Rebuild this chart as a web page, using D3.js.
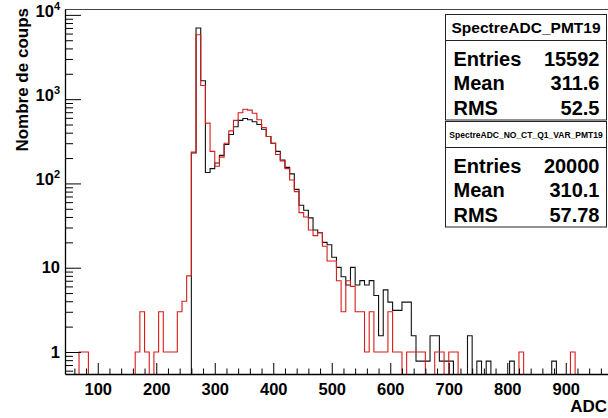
<!DOCTYPE html>
<html>
<head>
<meta charset="utf-8">
<script src="https://cdn.jsdelivr.net/npm/d3@7/dist/d3.min.js"></script>
<style>
    body { margin: 0; background: #fff; }
    svg { display: block; font-family: "Liberation Sans", Arial, sans-serif; font-weight: bold; }
</style>
</head>
<body>
<div id="chart"></div>
<script>
//----------------------------
// Data
//----------------------------

// histogram binning (ADC units)
var binStart = 44;
var binWidth = 8;

// black histogram SpectreADC_PMT19 (drawn normalised, values as read)
var countsPMT19 = [
    0, 0, 0, 0, 0, 0, 0, 0, 0, 0,
    0, 0, 0, 0, 0, 0, 0, 0, 0, 0,
    0, 0, 0, 0, 0, 0, 0, 230, 7000, 1650,
    135, 150, 175, 215, 290, 380, 470, 560, 590, 570,
    540, 500, 440, 360, 300, 240, 190, 155, 130, 85,
    55, 48, 39, 28, 26, 20, 18.7, 13.3, 10.1, 7.8,
    6.24, 10.1, 6.24, 7.02, 6.24, 7.02, 4.68, 1.56, 5.46, 3.9,
    3.12, 3.12, 3.9, 3.9, 1.56, 0.78, 0.78, 0.78, 1.56, 1.56,
    0.78, 0.78, 0.78, 0, 0, 0, 1.56, 0, 0.78, 0,
    0.78, 0, 0, 0, 0, 0.78, 0, 0, 0, 0,
    0, 0, 0, 0, 0.78, 0, 0, 0, 0, 0,
    0, 0, 0, 0, 0, 0, 0, 0, 0, 0,
    0, 0, 0, 0, 0
];

// red histogram SpectreADC_NO_CT_Q1_VAR_PMT19
var countsNoCt = [
    0, 0, 0, 1, 1, 0, 0, 0, 0, 0,
    0, 0, 0, 0, 0, 1, 3, 1, 0, 1,
    3, 1, 1, 1, 3, 4, 8, 235, 5800, 1450,
    520, 240, 160, 205, 300, 420, 560, 690, 760, 740,
    680, 570, 460, 360, 300, 220, 185, 150, 110, 80,
    45, 40, 28, 24, 26, 18, 12, 12, 7, 3,
    7, 6, 3, 3, 1, 3, 1, 1, 1, 3,
    1, 1, 0, 1, 1, 1, 1, 0, 0, 1,
    1, 0, 1, 1, 0, 0, 0, 0, 0, 0,
    0, 0, 0, 0, 0, 0, 0, 1, 0, 0,
    0, 0, 0, 0, 0, 0, 0, 0, 1, 0,
    0, 0, 0, 0, 0, 0, 0, 0, 0, 0,
    0, 0, 0, 0, 0
];

var xTicks = [100, 200, 300, 400, 500, 600, 700, 800, 900];
var yDecades = [1, 10, 100, 1000, 10000];

var statNames = ["Entries", "Mean", "RMS"];
var statsPMT19 = ["15592", "311.6", "52.5"];
var statsNoCt = ["20000", "310.1", "57.78"];

//----------------------------
// Setup
//----------------------------

var W = 608, H = 418;
var fLeft = 65, fRight = 650, fTop = 9, fBottom = 374;

var svg = d3.select("#chart")
    .append("svg")
    .attr("width", W)
    .attr("height", H);

var x = d3.scaleLinear()
    .domain([binStart, binStart + binWidth * countsNoCt.length])
    .range([fLeft, fRight]);

var y = d3.scaleLog()
    .domain([0.548, 11740])
    .range([fBottom, fTop]);

svg.append("clipPath")
    .attr("id", "frame")
    .append("rect")
    .attr("x", fLeft)
    .attr("y", fTop)
    .attr("width", fRight - fLeft)
    .attr("height", fBottom - fTop);

//----------------------------
// Histograms
//----------------------------

function stepPath(counts) {
    var pts = counts.map(function (c, i) { return [binStart + i * binWidth, c]; });
    pts.push([binStart + counts.length * binWidth, counts[counts.length - 1]]);
    return d3.line()
        .x(function (d) { return x(d[0]); })
        .y(function (d) { return d[1] > 0 ? y(d[1]) : fBottom + 2; })
        .curve(d3.curveStepAfter)(pts);
}

var plot = svg.append("g").attr("clip-path", "url(#frame)");

plot.append("path")
    .attr("d", stepPath(countsPMT19))
    .attr("fill", "none")
    .attr("stroke", "#111")
    .attr("stroke-width", 1.1);

plot.append("path")
    .attr("d", stepPath(countsNoCt))
    .attr("fill", "none")
    .attr("stroke", "#d81c1c")
    .attr("stroke-width", 1.1);

//----------------------------
// Frame and axes
//----------------------------

svg.append("line")
    .attr("x1", fLeft).attr("x2", fRight)
    .attr("y1", fTop + 0.5).attr("y2", fTop + 0.5)
    .attr("stroke", "#444");

var xMinor = d3.range(60, 1044, 20).filter(function (v) { return v % 100 !== 0; });

svg.append("g")
    .attr("transform", "translate(0," + fBottom + ")")
    .call(d3.axisBottom(x).tickValues(xMinor).tickSize(-5.5).tickSizeOuter(0).tickFormat(""))
    .call(function (g) { g.select(".domain").remove(); });

var xAxis = svg.append("g")
    .attr("transform", "translate(0," + fBottom + ")")
    .call(d3.axisBottom(x).tickValues(xTicks).tickSize(-11).tickSizeOuter(0).tickPadding(9.5));

xAxis.select(".domain").attr("stroke", "#000").attr("stroke-width", 1.3);
xAxis.selectAll(".tick line").attr("stroke", "#000");
xAxis.selectAll(".tick text")
    .attr("font-size", "16.5px")
    .attr("font-family", "Liberation Sans, Arial, sans-serif")
    .attr("font-weight", "bold")
    .attr("fill", "#000");

var yMinor = [];
[0.1, 1, 10, 100, 1000].forEach(function (dec) {
    d3.range(2, 10).forEach(function (m) { yMinor.push(dec * m); });
});

svg.append("g")
    .attr("transform", "translate(" + fLeft + ",0)")
    .call(d3.axisLeft(y).tickValues(yMinor.filter(function (v) { return v > 0.548 && v < 11740; }))
        .tickSize(-8).tickSizeOuter(0).tickFormat(""))
    .call(function (g) { g.select(".domain").remove(); });

var yAxis = svg.append("g")
    .attr("transform", "translate(" + fLeft + ",0)")
    .call(d3.axisLeft(y).tickValues(yDecades).tickSize(-16).tickSizeOuter(0).tickPadding(5));

yAxis.select(".domain").attr("stroke", "#000").attr("stroke-width", 1.3);
yAxis.selectAll(".tick line").attr("stroke", "#000");
yAxis.selectAll(".tick text")
    .attr("font-size", "16.5px")
    .attr("font-family", "Liberation Sans, Arial, sans-serif")
    .attr("font-weight", "bold")
    .attr("fill", "#000")
    .each(function (d) {
        var t = d3.select(this).text(null);
        if (d < 100) {
            t.text(d);
        } else {
            t.attr("y", -4);
            t.append("tspan").text("10");
            t.append("tspan")
                .attr("dy", "-7")
                .attr("font-size", "11px")
                .text(Math.round(Math.log10(d)));
        }
    });

// axis titles
svg.append("text")
    .attr("transform", "translate(28,8) rotate(-90)")
    .attr("text-anchor", "end")
    .attr("font-size", "17px")
    .text("Nombre de coups");

svg.append("text")
    .attr("x", 607)
    .attr("y", 412)
    .attr("text-anchor", "end")
    .attr("font-size", "17px")
    .text("ADC");

//----------------------------
// Stats boxes
//----------------------------

function statsBox(y0, title, titleSize, values) {
    var bx = 445.5, bw = 161, titleH = 26, rowH = 24.5;
    var g = svg.append("g");
    g.append("rect")
        .attr("x", bx).attr("y", y0)
        .attr("width", bw).attr("height", titleH + rowH * 3 + 6)
        .attr("fill", "#fff")
        .attr("stroke", "#222");
    g.append("line")
        .attr("x1", bx).attr("x2", bx + bw)
        .attr("y1", y0 + titleH).attr("y2", y0 + titleH)
        .attr("stroke", "#222");
    g.append("text")
        .attr("x", bx + bw / 2)
        .attr("y", y0 + titleH / 2 + titleSize * 0.36)
        .attr("text-anchor", "middle")
        .attr("font-size", titleSize + "px")
        .text(title);
    statNames.forEach(function (name, i) {
        var by = y0 + titleH + 25 + i * rowH;
        g.append("text")
            .attr("x", bx + 8).attr("y", by)
            .attr("font-size", "20px")
            .text(name);
        g.append("text")
            .attr("x", bx + bw - 7).attr("y", by)
            .attr("text-anchor", "end")
            .attr("font-size", "20px")
            .text(values[i]);
    });
}

statsBox(14.5, "SpectreADC_PMT19", 15.5, statsPMT19);
statsBox(121.5, "SpectreADC_NO_CT_Q1_VAR_PMT19", 8.5, statsNoCt);
</script>
</body>
</html>
